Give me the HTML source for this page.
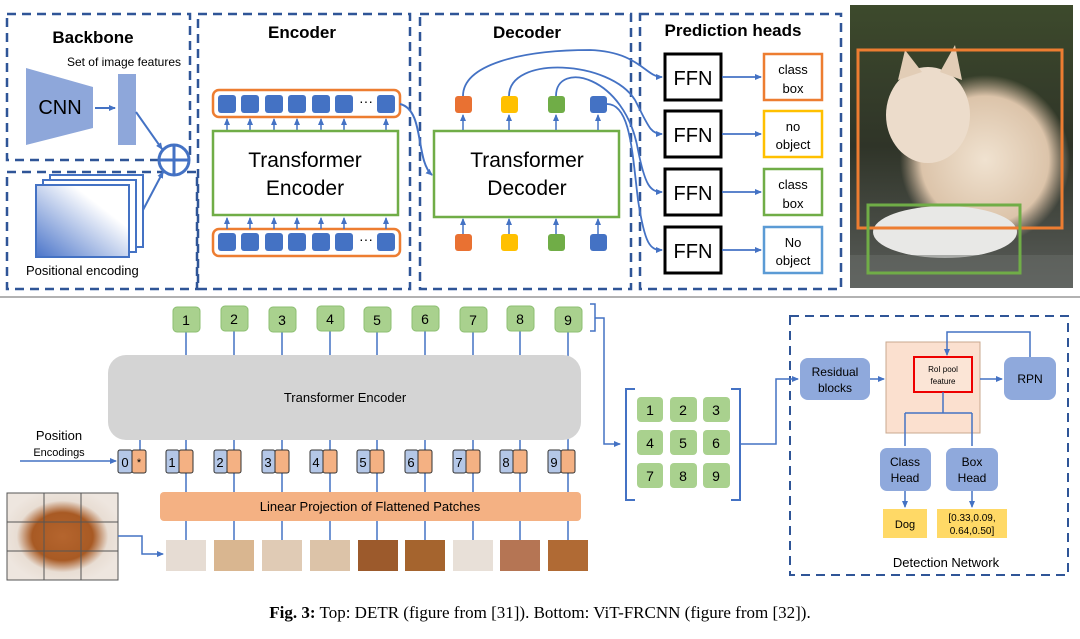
<!DOCTYPE html>
<html><head><meta charset="utf-8"><style>
html,body{margin:0;padding:0;background:#fff;}
svg{display:block;font-family:"Liberation Sans",sans-serif;}
</style></head><body>
<svg width="1080" height="639" viewBox="0 0 1080 639" xmlns="http://www.w3.org/2000/svg">
<defs>
<marker id="ar" markerWidth="8" markerHeight="8" refX="6" refY="3" orient="auto" markerUnits="userSpaceOnUse"><path d="M0,0 L7,3 L0,6 z" fill="#4472c4"/></marker>
<linearGradient id="pe" x1="0" y1="1" x2="1" y2="0"><stop offset="0" stop-color="#4a74c9"/><stop offset="0.7" stop-color="#fff"/></linearGradient>
<linearGradient id="cat" x1="0" y1="0" x2="0" y2="1"><stop offset="0" stop-color="#3d4a2c"/><stop offset="0.5" stop-color="#2f3428"/><stop offset="1" stop-color="#5a5d5a"/></linearGradient>
<radialGradient id="catb" cx="0.5" cy="0.5" r="0.5"><stop offset="0" stop-color="#f0e2d0"/><stop offset="0.75" stop-color="#dcc4aa"/><stop offset="1" stop-color="#c8ae94" stop-opacity="0"/></radialGradient>
<radialGradient id="dog" cx="0.5" cy="0.5" r="0.55"><stop offset="0" stop-color="#b5652e"/><stop offset="0.5" stop-color="#a85a24"/><stop offset="0.75" stop-color="#e8ddd3"/><stop offset="1" stop-color="#eee6df"/></radialGradient>
</defs>
<g fill="none" stroke="#2f5597" stroke-width="2.5" stroke-dasharray="9,6">
<rect x="7" y="14" width="183" height="146"/>
<rect x="7" y="172" width="190" height="117"/>
<rect x="198" y="14" width="212" height="275"/>
<rect x="420" y="14" width="211" height="275"/>
<rect x="640" y="14" width="201" height="275"/>
<rect x="790" y="316" width="278" height="259" stroke-width="2"/>
</g>
<text x="93" y="43" font-size="17" font-weight="bold" text-anchor="middle">Backbone</text>
<text x="124" y="66" font-size="12" text-anchor="middle">Set of image features</text>
<polygon points="26,68 93,87 93,128 26,145" fill="#8ea7da"/>
<text x="60" y="114" font-size="20" text-anchor="middle">CNN</text>
<line x1="95" y1="108" x2="115" y2="108" stroke="#4472c4" stroke-width="2" marker-end="url(#ar)"/>
<rect x="118" y="74" width="18" height="71" fill="#8ea7da"/>
<line x1="136" y1="112" x2="162" y2="149" stroke="#4472c4" stroke-width="2" marker-end="url(#ar)"/>
<line x1="143" y1="210" x2="163" y2="172" stroke="#4472c4" stroke-width="2" marker-end="url(#ar)"/>
<circle cx="174" cy="160" r="15" fill="#fff" stroke="#4472c4" stroke-width="3"/>
<line x1="159" y1="160" x2="189" y2="160" stroke="#4472c4" stroke-width="3"/>
<line x1="174" y1="145" x2="174" y2="175" stroke="#4472c4" stroke-width="3"/>
<rect x="50" y="175" width="93" height="72" fill="#fff" stroke="#4472c4" stroke-width="2"/>
<rect x="43" y="180" width="93" height="72" fill="#fff" stroke="#4472c4" stroke-width="2"/>
<rect x="36" y="185" width="93" height="72" fill="url(#pe)" stroke="#4472c4" stroke-width="2"/>
<text x="26" y="275" font-size="13">Positional encoding</text>
<text x="302" y="38" font-size="17" font-weight="bold" text-anchor="middle">Encoder</text>
<rect x="213" y="90" width="187" height="27" rx="6" fill="#fff" stroke="#ed7d31" stroke-width="2.5"/>
<rect x="213" y="229" width="187" height="27" rx="6" fill="#fff" stroke="#ed7d31" stroke-width="2.5"/>
<g fill="#4472c4">
<rect x="218" y="95" width="18" height="18" rx="3"/><rect x="241" y="95" width="18" height="18" rx="3"/><rect x="265" y="95" width="18" height="18" rx="3"/><rect x="288" y="95" width="18" height="18" rx="3"/><rect x="312" y="95" width="18" height="18" rx="3"/><rect x="335" y="95" width="18" height="18" rx="3"/><rect x="377" y="95" width="18" height="18" rx="3"/>
<rect x="218" y="233" width="18" height="18" rx="3"/><rect x="241" y="233" width="18" height="18" rx="3"/><rect x="265" y="233" width="18" height="18" rx="3"/><rect x="288" y="233" width="18" height="18" rx="3"/><rect x="312" y="233" width="18" height="18" rx="3"/><rect x="335" y="233" width="18" height="18" rx="3"/><rect x="377" y="233" width="18" height="18" rx="3"/>
</g>
<text x="366" y="106" font-size="14" text-anchor="middle">···</text>
<text x="366" y="244" font-size="14" text-anchor="middle">···</text>
<g stroke="#4472c4" stroke-width="1.5" marker-end="url(#ar)">
<line x1="227" y1="130" x2="227" y2="119"/><line x1="250" y1="130" x2="250" y2="119"/><line x1="274" y1="130" x2="274" y2="119"/><line x1="297" y1="130" x2="297" y2="119"/><line x1="321" y1="130" x2="321" y2="119"/><line x1="344" y1="130" x2="344" y2="119"/><line x1="386" y1="130" x2="386" y2="119"/>
<line x1="227" y1="229" x2="227" y2="218"/><line x1="250" y1="229" x2="250" y2="218"/><line x1="274" y1="229" x2="274" y2="218"/><line x1="297" y1="229" x2="297" y2="218"/><line x1="321" y1="229" x2="321" y2="218"/><line x1="344" y1="229" x2="344" y2="218"/><line x1="386" y1="229" x2="386" y2="218"/>
</g>
<rect x="213" y="131" width="185" height="84" fill="#fff" stroke="#70ad47" stroke-width="2.5"/>
<text x="305" y="167" font-size="21" text-anchor="middle">Transformer</text>
<text x="305" y="195" font-size="21" text-anchor="middle">Encoder</text>
<path d="M400,104 C425,110 415,160 432,175" fill="none" stroke="#4472c4" stroke-width="2" marker-end="url(#ar)"/>
<text x="527" y="38" font-size="17" font-weight="bold" text-anchor="middle">Decoder</text>
<rect x="434" y="131" width="185" height="86" fill="#fff" stroke="#70ad47" stroke-width="2.5"/>
<text x="527" y="167" font-size="21" text-anchor="middle">Transformer</text>
<text x="527" y="195" font-size="21" text-anchor="middle">Decoder</text>
<rect x="455" y="96" width="17" height="17" rx="3" fill="#e97132"/><rect x="501" y="96" width="17" height="17" rx="3" fill="#ffc000"/><rect x="548" y="96" width="17" height="17" rx="3" fill="#70ad47"/><rect x="590" y="96" width="17" height="17" rx="3" fill="#4472c4"/>
<rect x="455" y="234" width="17" height="17" rx="3" fill="#e97132"/><rect x="501" y="234" width="17" height="17" rx="3" fill="#ffc000"/><rect x="548" y="234" width="17" height="17" rx="3" fill="#70ad47"/><rect x="590" y="234" width="17" height="17" rx="3" fill="#4472c4"/>
<g stroke="#4472c4" stroke-width="1.5" marker-end="url(#ar)">
<line x1="463" y1="130" x2="463" y2="115"/><line x1="509" y1="130" x2="509" y2="115"/><line x1="556" y1="130" x2="556" y2="115"/><line x1="598" y1="130" x2="598" y2="115"/>
<line x1="463" y1="234" x2="463" y2="219"/><line x1="509" y1="234" x2="509" y2="219"/><line x1="556" y1="234" x2="556" y2="219"/><line x1="598" y1="234" x2="598" y2="219"/>
</g>
<g fill="none" stroke="#4472c4" stroke-width="1.8" marker-end="url(#ar)">
<path d="M463,96 C463,65 520,50 590,50 C640,52 645,77 662,77"/>
<path d="M509,96 C509,55 610,60 635,100 C648,125 650,134 662,134"/>
<path d="M556,96 C556,60 625,75 638,150 C645,185 650,192 662,192"/>
<path d="M607,104 C630,104 632,150 638,200 C645,245 650,250 662,250"/>
</g>
<text x="733" y="36" font-size="17" font-weight="bold" text-anchor="middle">Prediction heads</text>
<g fill="#fff" stroke="#000" stroke-width="3">
<rect x="665" y="54" width="56" height="46"/><rect x="665" y="111" width="56" height="46"/><rect x="665" y="169" width="56" height="46"/><rect x="665" y="227" width="56" height="46"/>
</g>
<g font-size="20" text-anchor="middle"><text x="693" y="85">FFN</text><text x="693" y="142">FFN</text><text x="693" y="200">FFN</text><text x="693" y="258">FFN</text></g>
<g stroke="#4472c4" stroke-width="1.8" marker-end="url(#ar)">
<line x1="722" y1="77" x2="761" y2="77"/><line x1="722" y1="134" x2="761" y2="134"/><line x1="722" y1="192" x2="761" y2="192"/><line x1="722" y1="250" x2="761" y2="250"/>
</g>
<rect x="764" y="54" width="58" height="46" fill="#fff" stroke="#ed7d31" stroke-width="2.5"/>
<rect x="764" y="111" width="58" height="46" fill="#fff" stroke="#ffc000" stroke-width="2.5"/>
<rect x="764" y="169" width="58" height="46" fill="#fff" stroke="#70ad47" stroke-width="2.5"/>
<rect x="764" y="227" width="58" height="46" fill="#fff" stroke="#5b9bd5" stroke-width="2.5"/>
<g font-size="13" text-anchor="middle">
<text x="793" y="74">class</text><text x="793" y="93">box</text>
<text x="793" y="131">no</text><text x="793" y="149">object</text>
<text x="793" y="189">class</text><text x="793" y="208">box</text>
<text x="793" y="247">No</text><text x="793" y="265">object</text>
</g>
<rect x="850" y="5" width="223" height="283" fill="url(#cat)"/>
<ellipse cx="985" cy="160" rx="85" ry="85" fill="url(#catb)"/>
<ellipse cx="928" cy="115" rx="42" ry="48" fill="#ecdccb"/>
<polygon points="898,80 905,50 922,72" fill="#e2cdb6"/>
<polygon points="940,72 955,45 962,80" fill="#e2cdb6"/>
<ellipse cx="945" cy="232" rx="72" ry="26" fill="#e8e8e6"/>
<rect x="850" y="255" width="223" height="33" fill="#6a6d6a" opacity="0.5"/>
<rect x="858" y="50" width="204" height="178" fill="none" stroke="#ed7d31" stroke-width="3"/>
<rect x="868" y="205" width="152" height="68" fill="none" stroke="#70ad47" stroke-width="3"/>
<line x1="0" y1="297" x2="1080" y2="297" stroke="#999" stroke-width="1.5"/>
<g stroke="#4472c4" stroke-width="1.5">
<line x1="140" y1="440" x2="140" y2="450"/>
<line x1="186" y1="330" x2="186" y2="492"/><line x1="234" y1="330" x2="234" y2="492"/><line x1="282" y1="330" x2="282" y2="492"/><line x1="330" y1="330" x2="330" y2="492"/><line x1="377" y1="330" x2="377" y2="492"/><line x1="425" y1="330" x2="425" y2="492"/><line x1="473" y1="330" x2="473" y2="492"/><line x1="520" y1="330" x2="520" y2="492"/><line x1="568" y1="330" x2="568" y2="492"/>
<line x1="186" y1="521" x2="186" y2="540"/><line x1="234" y1="521" x2="234" y2="540"/><line x1="282" y1="521" x2="282" y2="540"/><line x1="330" y1="521" x2="330" y2="540"/><line x1="377" y1="521" x2="377" y2="540"/><line x1="425" y1="521" x2="425" y2="540"/><line x1="473" y1="521" x2="473" y2="540"/><line x1="520" y1="521" x2="520" y2="540"/><line x1="568" y1="521" x2="568" y2="540"/>
</g>
<g fill="#a9d18e" stroke="#8dbf72" stroke-width="1">
<rect x="173" y="307" width="27" height="25" rx="4"/><rect x="221" y="306" width="27" height="25" rx="4"/><rect x="269" y="307" width="27" height="25" rx="4"/><rect x="317" y="306" width="27" height="25" rx="4"/><rect x="364" y="307" width="27" height="25" rx="4"/><rect x="412" y="306" width="27" height="25" rx="4"/><rect x="460" y="307" width="27" height="25" rx="4"/><rect x="507" y="306" width="27" height="25" rx="4"/><rect x="555" y="307" width="27" height="25" rx="4"/>
</g>
<g font-size="14" text-anchor="middle">
<text x="186" y="325">1</text><text x="234" y="324">2</text><text x="282" y="325">3</text><text x="330" y="324">4</text><text x="377" y="325">5</text><text x="425" y="324">6</text><text x="473" y="325">7</text><text x="520" y="324">8</text><text x="568" y="325">9</text>
</g>
<path d="M590,304 h5 v27 h-5 M595,318 h9 v126 h16" fill="none" stroke="#4472c4" stroke-width="1.5" marker-end="url(#ar)"/>
<rect x="108" y="355" width="473" height="85" rx="18" fill="#d4d4d4"/>
<text x="345" y="402" font-size="13" text-anchor="middle">Transformer Encoder</text>
<text x="59" y="440" font-size="13" text-anchor="middle">Position</text>
<text x="59" y="456" font-size="11" text-anchor="middle">Encodings</text>
<line x1="20" y1="461" x2="116" y2="461" stroke="#4472c4" stroke-width="1.5" marker-end="url(#ar)"/>
<g stroke="#333" stroke-width="1">
<rect x="118" y="450" width="14" height="23" rx="2" fill="#b4c7e7"/><rect x="132" y="450" width="14" height="23" rx="2" fill="#f4b183"/>
<rect x="166" y="450" width="13" height="23" rx="2" fill="#b4c7e7"/><rect x="179" y="450" width="14" height="23" rx="2" fill="#f4b183"/>
<rect x="214" y="450" width="13" height="23" rx="2" fill="#b4c7e7"/><rect x="227" y="450" width="14" height="23" rx="2" fill="#f4b183"/>
<rect x="262" y="450" width="13" height="23" rx="2" fill="#b4c7e7"/><rect x="275" y="450" width="14" height="23" rx="2" fill="#f4b183"/>
<rect x="310" y="450" width="13" height="23" rx="2" fill="#b4c7e7"/><rect x="323" y="450" width="14" height="23" rx="2" fill="#f4b183"/>
<rect x="357" y="450" width="13" height="23" rx="2" fill="#b4c7e7"/><rect x="370" y="450" width="14" height="23" rx="2" fill="#f4b183"/>
<rect x="405" y="450" width="13" height="23" rx="2" fill="#b4c7e7"/><rect x="418" y="450" width="14" height="23" rx="2" fill="#f4b183"/>
<rect x="453" y="450" width="13" height="23" rx="2" fill="#b4c7e7"/><rect x="466" y="450" width="14" height="23" rx="2" fill="#f4b183"/>
<rect x="500" y="450" width="13" height="23" rx="2" fill="#b4c7e7"/><rect x="513" y="450" width="14" height="23" rx="2" fill="#f4b183"/>
<rect x="548" y="450" width="13" height="23" rx="2" fill="#b4c7e7"/><rect x="561" y="450" width="14" height="23" rx="2" fill="#f4b183"/>
</g>
<g font-size="13" text-anchor="middle">
<text x="125" y="467">0</text><text x="139" y="466" font-size="11">*</text>
<text x="172" y="467">1</text><text x="220" y="467">2</text><text x="268" y="467">3</text><text x="316" y="467">4</text><text x="363" y="467">5</text><text x="411" y="467">6</text><text x="459" y="467">7</text><text x="506" y="467">8</text><text x="554" y="467">9</text>
</g>
<rect x="160" y="492" width="421" height="29" rx="4" fill="#f4b183"/>
<text x="370" y="511" font-size="13" text-anchor="middle">Linear Projection of Flattened Patches</text>
<rect x="7" y="493" width="111" height="87" fill="url(#dog)"/>
<g stroke="#555" stroke-width="1"><line x1="44" y1="493" x2="44" y2="580"/><line x1="81" y1="493" x2="81" y2="580"/><line x1="7" y1="522" x2="118" y2="522"/><line x1="7" y1="551" x2="118" y2="551"/><rect x="7" y="493" width="111" height="87" fill="none"/></g>
<path d="M118,536 h24 v18 h21" fill="none" stroke="#4472c4" stroke-width="1.5" marker-end="url(#ar)"/>
<g>
<rect x="166" y="540" width="40" height="31" fill="#e6dcd3"/><rect x="214" y="540" width="40" height="31" fill="#d9b690"/><rect x="262" y="540" width="40" height="31" fill="#e0cbb5"/><rect x="310" y="540" width="40" height="31" fill="#dcc3a8"/><rect x="358" y="540" width="40" height="31" fill="#9c5a2c"/><rect x="405" y="540" width="40" height="31" fill="#a5642e"/><rect x="453" y="540" width="40" height="31" fill="#e8e0d8"/><rect x="500" y="540" width="40" height="31" fill="#b57554"/><rect x="548" y="540" width="40" height="31" fill="#b06a34"/>
</g>
<path d="M635,389 h-9 v111 h9 M731,389 h9 v111 h-9" fill="none" stroke="#4472c4" stroke-width="2"/>
<g fill="#a9d18e">
<rect x="637" y="397" width="26" height="25" rx="4"/><rect x="670" y="397" width="27" height="25" rx="4"/><rect x="703" y="397" width="27" height="25" rx="4"/>
<rect x="637" y="430" width="26" height="25" rx="4"/><rect x="670" y="430" width="27" height="25" rx="4"/><rect x="703" y="430" width="27" height="25" rx="4"/>
<rect x="637" y="463" width="26" height="25" rx="4"/><rect x="670" y="463" width="27" height="25" rx="4"/><rect x="703" y="463" width="27" height="25" rx="4"/>
</g>
<g font-size="14" text-anchor="middle">
<text x="650" y="415">1</text><text x="683" y="415">2</text><text x="716" y="415">3</text>
<text x="650" y="448">4</text><text x="683" y="448">5</text><text x="716" y="448">6</text>
<text x="650" y="481">7</text><text x="683" y="481">8</text><text x="716" y="481">9</text>
</g>
<path d="M740,444 h36 v-65 h22" fill="none" stroke="#4472c4" stroke-width="1.5" marker-end="url(#ar)"/>
<rect x="800" y="358" width="70" height="42" rx="8" fill="#8fa9dc"/>
<text x="835" y="376" font-size="12" text-anchor="middle">Residual</text><text x="835" y="392" font-size="12" text-anchor="middle">blocks</text>
<line x1="870" y1="379" x2="884" y2="379" stroke="#4472c4" stroke-width="1.5" marker-end="url(#ar)"/>
<rect x="886" y="342" width="94" height="91" fill="#fbe0cf" stroke="#c9a88f"/>
<rect x="914" y="357" width="58" height="35" fill="#fbe5d6" stroke="#e00" stroke-width="2"/>
<text x="943" y="372" font-size="8" text-anchor="middle">RoI pool</text><text x="943" y="384" font-size="8" text-anchor="middle">feature</text>
<line x1="980" y1="379" x2="1002" y2="379" stroke="#4472c4" stroke-width="1.5" marker-end="url(#ar)"/>
<rect x="1004" y="357" width="52" height="43" rx="8" fill="#8fa9dc"/>
<text x="1030" y="383" font-size="12" text-anchor="middle">RPN</text>
<path d="M1030,357 v-25 h-83 v23" fill="none" stroke="#4472c4" stroke-width="1.5" marker-end="url(#ar)"/>
<path d="M943,392 v21 M905,413 h67 M905,413 v33 M972,413 v33" fill="none" stroke="#4472c4" stroke-width="1.5"/>
<rect x="880" y="448" width="51" height="43" rx="7" fill="#8fa9dc"/>
<rect x="946" y="448" width="52" height="43" rx="7" fill="#8fa9dc"/>
<text x="905" y="466" font-size="12" text-anchor="middle">Class</text><text x="905" y="482" font-size="12" text-anchor="middle">Head</text>
<text x="972" y="466" font-size="12" text-anchor="middle">Box</text><text x="972" y="482" font-size="12" text-anchor="middle">Head</text>
<line x1="905" y1="491" x2="905" y2="507" stroke="#4472c4" stroke-width="1.5" marker-end="url(#ar)"/>
<line x1="972" y1="491" x2="972" y2="507" stroke="#4472c4" stroke-width="1.5" marker-end="url(#ar)"/>
<rect x="883" y="509" width="44" height="29" fill="#ffd966"/>
<rect x="937" y="509" width="70" height="29" fill="#ffd966"/>
<text x="905" y="528" font-size="11" text-anchor="middle">Dog</text>
<text x="972" y="521" font-size="10" text-anchor="middle">[0.33,0.09,</text><text x="972" y="534" font-size="10" text-anchor="middle">0.64,0.50]</text>
<text x="946" y="567" font-size="13" text-anchor="middle">Detection Network</text>
<text x="540" y="618" font-family="Liberation Serif, serif" font-size="17" text-anchor="middle"><tspan font-weight="bold">Fig. 3:</tspan> Top: DETR (figure from [31]). Bottom: ViT-FRCNN (figure from [32]).</text>
</svg>
</body></html>
